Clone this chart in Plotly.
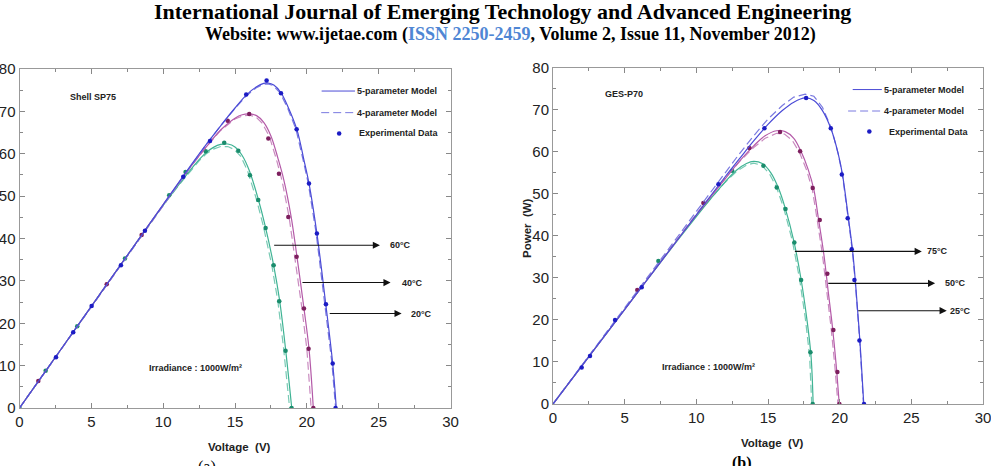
import plotly.graph_objects as go

W, H = 991, 466

# ---------------- DATA : (a) Shell SP75 ----------------
a_v20 = [0, 2, 4, 6, 8, 10, 12, 13, 14, 15, 15.8, 16.5, 17, 17.3, 17.7, 18.2, 18.7, 19.3, 19.8, 20.15, 20.7, 21.3, 21.8, 22.05]
a_p20 = [0, 9.6, 19.2, 28.8, 38.4, 48.0, 57.6, 62.2, 66.6, 70.8, 73.9, 75.8, 76.6, 76.7, 76.2, 74.4, 71.0, 65.8, 58.5, 53.0, 41.2, 25.0, 10.5, 0]
a_v20d = [0, 2, 4, 6, 8, 10, 12, 13, 14, 15, 15.8, 16.5, 17, 17.3, 17.65, 18.15, 18.65, 19.25, 19.75, 20.1, 20.65, 21.25, 21.75, 22.0]
a_p20d = [0, 9.6, 19.2, 28.8, 38.4, 48.0, 57.6, 62.2, 66.6, 70.7, 73.7, 75.6, 76.4, 76.5, 76.1, 74.3, 70.9, 65.7, 58.4, 53.0, 41.2, 25.0, 10.5, 0]

a_v40 = [0, 2, 4, 6, 8, 10, 12, 13, 14, 15, 15.5, 16, 16.5, 17, 17.5, 18, 18.4, 18.9, 19.3, 19.8, 20.15, 20.45]
a_p40 = [0, 9.6, 19.2, 28.8, 38.4, 48.0, 57.3, 61.6, 65.6, 68.4, 69.2, 69.4, 69.0, 67.4, 64.2, 58.8, 53.8, 45.3, 36.0, 23.5, 14.0, 0]
a_v40d = [0, 2, 4, 6, 8, 10, 12, 13, 14, 15, 15.5, 16, 16.45, 16.9, 17.4, 17.88, 18.27, 18.76, 19.16, 19.66, 20.0, 20.3]
a_p40d = [0, 9.6, 19.2, 28.8, 38.4, 48.0, 57.3, 61.6, 65.5, 68.2, 68.9, 69.1, 68.7, 67.2, 64.0, 58.7, 53.7, 45.2, 36.0, 23.5, 14.0, 0]

a_v60 = [0, 2, 4, 6, 8, 10, 11, 12, 12.5, 13, 13.5, 14, 14.5, 15, 15.5, 16, 16.6, 17.1, 17.7, 18.1, 18.5, 18.95]
a_p60 = [0, 9.6, 19.2, 28.8, 38.4, 47.8, 52.3, 56.6, 58.6, 60.3, 61.5, 62.2, 62.3, 61.6, 59.6, 56.0, 49.5, 43.0, 33.5, 25.5, 14.5, 0]
a_v60d = [0, 2, 4, 6, 8, 10, 11, 12, 12.5, 13, 13.5, 14, 14.5, 14.95, 15.4, 15.88, 16.47, 16.97, 17.57, 17.97, 18.37, 18.8]
a_p60d = [0, 9.6, 19.2, 28.8, 38.4, 47.8, 52.2, 56.4, 58.3, 60.0, 61.1, 61.7, 61.7, 61.0, 59.4, 55.9, 49.5, 43.0, 33.5, 25.5, 14.5, 0]

a_e20_v = [2.54, 3.74, 5.02, 7.06, 8.73, 11.4, 13.26, 15.78, 17.2, 18.2, 19.29, 20.15, 20.7, 21.33, 21.8, 22.0]
a_e20_p = [12.0, 17.9, 24.1, 33.7, 41.8, 54.6, 63.0, 74.0, 77.3, 74.3, 65.8, 53.0, 41.2, 24.5, 10.5, 0]
a_e40_v = [1.31, 6.07, 8.5, 14.49, 15.99, 17.32, 18.06, 18.71, 19.29, 19.8, 20.12, 20.45]
a_e40_p = [6.4, 29.2, 40.8, 67.8, 69.4, 63.6, 55.3, 45.1, 35.7, 23.5, 14.0, 0]
a_e60_v = [0, 1.82, 4.02, 7.34, 10.42, 11.56, 12.96, 14.25, 15.23, 16.04, 16.62, 17.13, 17.69, 18.08, 18.52, 18.94]
a_e60_p = [0, 8.8, 19.3, 35.3, 50.2, 55.7, 60.6, 62.6, 60.7, 54.9, 49.1, 42.5, 33.7, 25.2, 13.5, 0]

# ---------------- DATA : (b) GES-P70 ----------------
b_v25 = [0, 2, 4, 6, 8, 10, 12, 13, 14, 15, 16, 16.8, 17.6, 18.2, 18.8, 19.4, 19.9, 20.2, 20.6, 20.9, 21.1, 21.4, 21.68]
b_p25 = [0, 9.0, 18.0, 27.0, 36.0, 45.0, 54.0, 58.3, 62.6, 66.5, 69.8, 71.8, 72.8, 72.2, 69.8, 65.4, 59.5, 54.5, 44.5, 36.5, 29.0, 15.5, 0]
b_v25d = [0, 2, 4, 6, 8, 10, 12, 13, 14, 15, 16, 16.8, 17.6, 18.2, 18.8, 19.4, 19.9, 20.2, 20.6, 20.9, 21.1, 21.4, 21.66]
b_p25d = [0, 9.1, 18.3, 27.5, 36.6, 45.8, 55.0, 59.5, 63.8, 67.8, 71.0, 73.0, 73.7, 73.2, 70.6, 65.8, 59.5, 54.3, 44.0, 36.0, 28.5, 15.0, 0]

b_v50 = [0, 2, 4, 6, 8, 10, 12, 13, 14, 14.8, 15.6, 16.2, 16.8, 17.3, 17.8, 18.2, 18.5, 18.9, 19.2, 19.5, 19.75, 19.97]
b_p50 = [0, 9.0, 18.0, 27.0, 36.0, 44.9, 53.5, 57.7, 61.4, 63.8, 65.0, 64.8, 63.2, 60.1, 55.8, 51.0, 44.5, 35.5, 26.8, 18.2, 9.5, 0]
b_v50d = [0, 2, 4, 6, 8, 10, 12, 13, 14, 14.8, 15.6, 16.15, 16.7, 17.2, 17.7, 18.1, 18.4, 18.8, 19.1, 19.4, 19.65, 19.88]
b_p50d = [0, 9.1, 18.2, 27.3, 36.3, 45.2, 53.7, 57.6, 61.0, 63.2, 64.4, 64.2, 62.7, 59.8, 55.6, 50.9, 44.5, 35.5, 26.8, 18.2, 9.5, 0]

b_v75 = [0, 2, 4, 6, 8, 10, 11, 12, 12.8, 13.5, 14.0, 14.6, 15.2, 15.7, 16.2, 16.8, 17.3, 17.7, 18.0, 18.15]
b_p75 = [0, 9.0, 18.0, 27.0, 35.9, 44.6, 48.8, 52.8, 55.6, 57.2, 57.7, 57.2, 55.0, 51.6, 46.6, 38.8, 29.8, 20.5, 11.5, 0]
b_v75d = [0, 2, 4, 6, 8, 10, 11, 12, 12.8, 13.5, 14.0, 14.55, 15.1, 15.6, 16.1, 16.7, 17.2, 17.6, 17.9, 18.05]
b_p75d = [0, 9.1, 18.2, 27.2, 36.1, 44.8, 48.9, 52.7, 55.3, 56.8, 57.3, 56.8, 54.8, 51.5, 46.6, 38.8, 29.8, 20.5, 11.5, 0]

b_e25_v = [2.0, 2.58, 4.33, 6.19, 11.54, 14.75, 17.66, 19.38, 20.15, 20.56, 20.84, 21.03, 21.38, 21.7]
b_e25_p = [8.7, 11.4, 20.0, 27.8, 52.3, 65.6, 72.8, 65.6, 54.6, 44.2, 36.8, 29.5, 15.1, 0]
b_e50_v = [5.88, 10.49, 13.7, 15.84, 17.24, 18.12, 18.61, 19.14, 19.56, 19.84, 19.98]
b_e50_p = [27.1, 47.8, 60.9, 64.7, 60.1, 51.4, 43.8, 31.0, 17.6, 7.6, 0]
b_e75_v = [7.35, 12.5, 14.68, 15.61, 16.22, 16.84, 17.31, 17.96, 18.12]
b_e75_p = [34.0, 55.5, 56.7, 51.5, 46.4, 38.4, 29.5, 12.3, 0]

x_ticks = [0, 5, 10, 15, 20, 25, 30]
y_ticks = [0, 10, 20, 30, 40, 50, 60, 70, 80]

a_labels = ["60°C", "40°C", "20°C"]
a_arrow_tail_v = [17.62, 19.59, 21.49]
a_arrow_head_v = [25.09, 25.83, 26.6]
a_arrow_p = [38.4, 29.6, 22.3]
a_label_v = [25.65, 26.48, 27.1]

b_labels = ["75°C", "50°C", "25°C"]
b_arrow_tail_v = [16.77, 19.1, 21.19]
b_arrow_head_v = [25.73, 26.66, 27.47]
b_arrow_p = [36.3, 28.7, 22.2]
b_label_v = [25.96, 27.24, 27.56]

# ---------------- STYLE ----------------
BLUE, BLUE_D, BLUE_M = "#4b4bd6", "#7a7ae0", "#1c1cc4"
PURP, PURP_D, PURP_M = "#b45aa8", "#c98abf", "#7d1f5e"
TEAL, TEAL_D, TEAL_M = "#3fb394", "#78cab4", "#1a8c6c"
DASH = "8px,4px"

fig = go.Figure()

def add_set(xa, ya, v, p, vd, pd_, ev, ep, c, cd, cm):
    fig.add_trace(go.Scatter(x=vd, y=pd_, mode="lines", xaxis=xa, yaxis=ya,
                             line=dict(color=cd, width=1.2, dash=DASH), showlegend=False))
    fig.add_trace(go.Scatter(x=v, y=p, mode="lines", xaxis=xa, yaxis=ya, line_shape="spline",
                             line=dict(color=c, width=1.2), showlegend=False))
    fig.add_trace(go.Scatter(x=ev, y=ep, mode="markers", xaxis=xa, yaxis=ya,
                             marker=dict(color=cm, size=4.5), showlegend=False))

add_set("x", "y", a_v60, a_p60, a_v60d, a_p60d, a_e60_v, a_e60_p, TEAL, TEAL_D, TEAL_M)
add_set("x", "y", a_v40, a_p40, a_v40d, a_p40d, a_e40_v, a_e40_p, PURP, PURP_D, PURP_M)
add_set("x", "y", a_v20, a_p20, a_v20d, a_p20d, a_e20_v, a_e20_p, BLUE, BLUE_D, BLUE_M)
add_set("x2", "y2", b_v75, b_p75, b_v75d, b_p75d, b_e75_v, b_e75_p, TEAL, TEAL_D, TEAL_M)
add_set("x2", "y2", b_v50, b_p50, b_v50d, b_p50d, b_e50_v, b_e50_p, PURP, PURP_D, PURP_M)
add_set("x2", "y2", b_v25, b_p25, b_v25d, b_p25d, b_e25_v, b_e25_p, BLUE, BLUE_D, BLUE_M)

# legend-like keys drawn inside each plot (data coords)
def add_key(xa, ya, ls, le, ds, de, dv):
    fig.add_trace(go.Scatter(x=[ls, le], y=[74.8, 74.8], mode="lines", xaxis=xa, yaxis=ya,
                             line=dict(color=BLUE, width=1), showlegend=False))
    fig.add_trace(go.Scatter(x=[ds, de], y=[69.7, 69.7], mode="lines", xaxis=xa, yaxis=ya,
                             line=dict(color=BLUE_D, width=1, dash=DASH), showlegend=False))
    fig.add_trace(go.Scatter(x=[dv], y=[64.8], mode="markers", xaxis=xa, yaxis=ya,
                             marker=dict(color=BLUE_M, size=4.5), showlegend=False))

add_key("x", "y", 21.03, 23.35, 21.0, 23.35, 22.25)
add_key("x2", "y2", 20.91, 22.94, 20.59, 22.97, 22.07)

ann = []
lab_font = dict(family="Liberation Sans, Arial", size=9, color="#222")
def key_text(xr, yr, tl, td):
    ann.append(dict(x=tl, y=74.8, xref=xr, yref=yr, text="<b>5-parameter Model</b>", showarrow=False,
                    xanchor="left", yanchor="middle", font=lab_font))
    ann.append(dict(x=tl, y=69.7, xref=xr, yref=yr, text="<b>4-parameter Model</b>", showarrow=False,
                    xanchor="left", yanchor="middle", font=lab_font))
    ann.append(dict(x=td, y=64.8, xref=xr, yref=yr, text="<b>Experimental Data</b>", showarrow=False,
                    xanchor="left", yanchor="middle", font=lab_font))
key_text("x", "y", 23.38, 23.47)
key_text("x2", "y2", 22.98, 23.33)

def arrows(xr, yr, labels, tails, heads, ps, lv):
    for lab, t, h, p, l in zip(labels, tails, heads, ps, lv):
        ann.append(dict(x=h, y=p, ax=t, ay=p, xref=xr, yref=yr, axref=xr, ayref=yr, text="",
                        showarrow=True, arrowhead=2, arrowsize=1.3, arrowwidth=1.1, arrowcolor="#111"))
        ann.append(dict(x=l, y=p, xref=xr, yref=yr, text="<b>" + lab + "</b>", showarrow=False,
                        xanchor="left", yanchor="middle", font=lab_font))
arrows("x", "y", a_labels, a_arrow_tail_v, a_arrow_head_v, a_arrow_p, a_label_v)
arrows("x2", "y2", b_labels, b_arrow_tail_v, b_arrow_head_v, b_arrow_p, b_label_v)

ann += [
    dict(x=5.11, y=73.4, xref="x", yref="y", text="<b>Shell SP75</b>", showarrow=False, font=lab_font,
         xanchor="center", yanchor="middle"),
    dict(x=12.23, y=9.4, xref="x", yref="y", text="<b>Irradiance : 1000W/m²</b>", showarrow=False, font=lab_font,
         xanchor="center", yanchor="middle"),
    dict(x=4.95, y=73.7, xref="x2", yref="y2", text="<b>GES-P70</b>", showarrow=False, font=lab_font,
         xanchor="center", yanchor="middle"),
    dict(x=10.84, y=8.9, xref="x2", yref="y2", text="<b>Irradiance : 1000W/m²</b>", showarrow=False, font=lab_font,
         xanchor="center", yanchor="middle"),
]

def px(x): return x / W
def py(y): return 1 - y / H

serif = "Liberation Serif, Times New Roman"
sans = "Liberation Sans, Arial"
def pann(x, y, text, font, angle=0, ya="middle"):
    ann.append(dict(x=px(x), y=py(y), xref="paper", yref="paper", showarrow=False, text=text,
                    font=font, textangle=angle, xanchor="center", yanchor=ya))

pann(502, 12, "<b>International Journal of Emerging Technology and Advanced Engineering</b>",
     dict(family=serif, size=22, color="#000"))
pann(511, 34, "<b>Website: www.ijetae.com (<span style='color:#4f86d4'>ISSN 2250-2459</span>, Volume 2, Issue 11, November 2012)</b>",
     dict(family=serif, size=18, color="#000"))
pann(239, 447, "<b>Voltage  (V)</b>", dict(family=sans, size=11.5, color="#222"))
pann(772, 443, "<b>Voltage  (V)</b>", dict(family=sans, size=11.5, color="#222"))
pann(527, 228, "<b>Power  (W)</b>", dict(family=sans, size=11.5, color="#222"), angle=-90)
pann(207, 456, "(a)", dict(family=serif, size=16, color="#000"), ya="top")
pann(742, 452, "<b>(b)</b>", dict(family=serif, size=16, color="#000"), ya="top")

axis_common = dict(range=[0, 30], tickvals=x_ticks, ticks="inside", ticklen=5, tickcolor="#888",
                   showline=True, linecolor="#999", linewidth=1, mirror="ticks", showgrid=False,
                   zeroline=False, automargin=False, ticklabeloverflow="allow",
                   tickfont=dict(family=sans, size=15, color="#222"),
                   minor=dict(dtick=2.5, ticks="inside", ticklen=3, tickcolor="#888"))
yaxis_common = dict(range=[0, 80], tickvals=y_ticks, ticks="inside", ticklen=5, tickcolor="#888",
                    showline=True, linecolor="#999", linewidth=1, mirror="ticks", showgrid=False,
                    zeroline=False, automargin=False, ticklabeloverflow="allow",
                    tickfont=dict(family=sans, size=15, color="#222"),
                    minor=dict(dtick=5, ticks="inside", ticklen=3, tickcolor="#888"))

fig.update_layout(
    width=W, height=H, margin=dict(l=0, r=0, t=0, b=0),
    paper_bgcolor="white", plot_bgcolor="white", showlegend=False,
    xaxis=dict(domain=[px(19.5), px(450.5)], anchor="y", **axis_common),
    yaxis=dict(domain=[py(408), py(69)], anchor="x", **yaxis_common),
    xaxis2=dict(domain=[px(553), px(983)], anchor="y2", **axis_common),
    yaxis2=dict(domain=[py(404), py(67.7)], anchor="x2", **yaxis_common),
    annotations=ann,
)

fig.write_html("out.html")
